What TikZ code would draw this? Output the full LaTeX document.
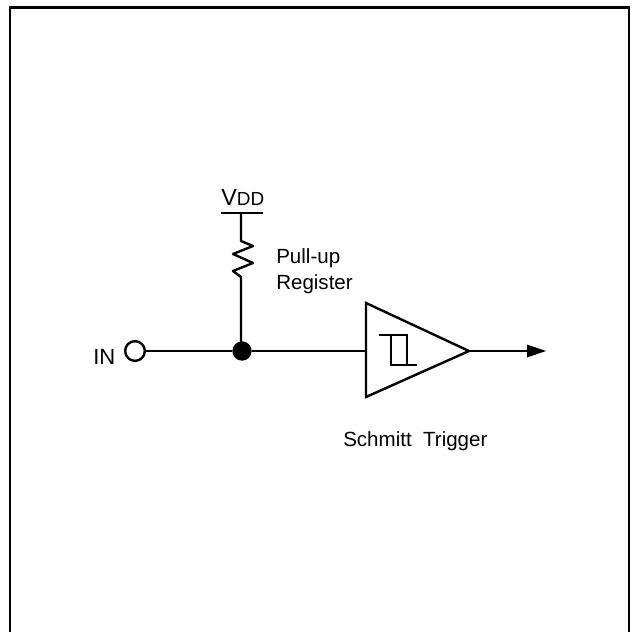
\documentclass[tikz,border=0pt]{standalone}
\usepackage{fontspec}
\setmainfont{Liberation Sans}
\usetikzlibrary{arrows.meta}
\tikzset{
  wire/.style={line width=1.8pt,line cap=butt,line join=miter},
  lbl/.style={inner sep=0pt,anchor=base west,font=\fontsize{15.4}{15.4}\selectfont},
  bigl/.style={inner sep=0pt,anchor=base west,font=\fontsize{16.5}{16.5}\selectfont},
}
\begin{document}
\begin{tikzpicture}[x=0.75pt,y=-0.75pt]
\useasboundingbox (0,0) rectangle (635,632);
% frame (open at the bottom)
\draw[wire] (10,632) -- (10,7.5) -- (629,7.5) -- (629,632);
% labels
\node[inner sep=0pt,anchor=base west,font=\fontsize{17.5}{17.5}\selectfont] (vlabel) at (221,205) {V\fontsize{14.2}{14.2}\selectfont DD};
\node[lbl] (pull) at (276,263) {Pull-up};
\node[lbl] (reg) at (276,289) {Register};
\node[bigl] (inlabel) at (93,364) {IN};
\node[lbl] (sch) at (343,446) {Schmitt\ \ Trigger};
% nodes
\node[circle,draw,line width=1.8pt,minimum size=14.8pt,inner sep=0pt] (input) at (135,351) {};
\node[circle,fill=black,minimum size=14.5pt,inner sep=0pt] (dot) at (242,351) {};
\coordinate (vl) at (221,213);
\coordinate (vr) at (263,213);
\coordinate (vm) at (241,213);
\coordinate (rt) at (241,241);
\coordinate (rb) at (241,277);
\coordinate (jn) at (241,351);
\coordinate (tl) at (366,351);
\coordinate (tt) at (366,303);
\coordinate (tb) at (366,397);
\coordinate (apex) at (469,351);
\coordinate (out) at (546,351);
% wires
\draw[wire] (vl) -- (vr);
\draw[wire,line join=round] (vm) -- (rt) -- (253,246) -- (233,254) -- (253,263) -- (233,271) -- (rb) -- (jn);
\draw[wire] (input) -- (dot);
\draw[wire] (dot) -- (tl);
\draw[wire] (tt) -- (apex) -- (tb) -- cycle;
\draw[wire] (379,335) -- (407,335) -- (407,365) -- (391,365) -- (391,335);
\draw[wire] (391,365) -- (417,365);
\draw[wire] (apex) -- (530,351);
\fill (527,344.5) -- (out) -- (527,357.5) -- cycle;
\end{tikzpicture}
\end{document}
